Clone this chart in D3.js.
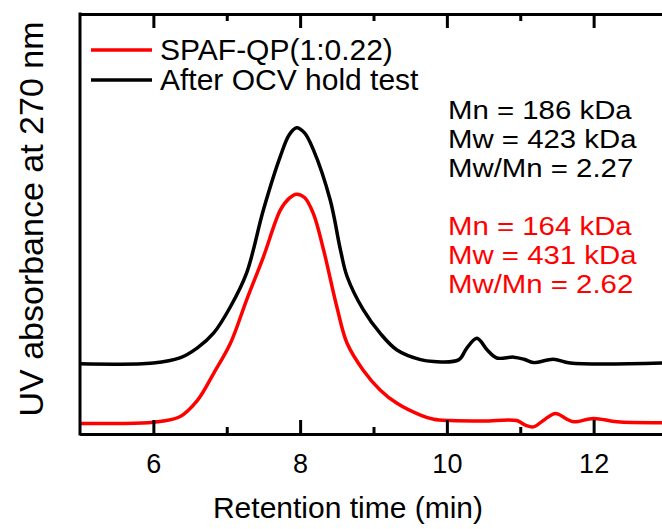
<!DOCTYPE html>
<html>
<head>
<meta charset="utf-8">
<script src="https://cdn.jsdelivr.net/npm/d3@7"></script>
<style>
  body { margin: 0; background: #fff; }
  svg text { font-family: "Liberation Sans", Arial, sans-serif; }
</style>
</head>
<body>
<div id="chart"></div>
<script>
// Data
const redTimes = [5.0, 5.5, 6.0, 6.36, 6.6, 6.82, 7.05, 7.27, 7.5, 7.73, 7.85, 7.95, 8.06, 8.18, 8.32, 8.5, 8.64, 8.86, 9.09, 9.32, 9.64, 9.82, 10.05, 10.5, 10.95, 11.07, 11.18, 11.32, 11.48, 11.64, 11.73, 12.0, 12.32, 12.94];
const redValues = [0, 0, 0.3, 1.6, 5.5, 11.9, 19.1, 29.4, 39.7, 50.8, 53.6, 54.6, 53.8, 50.0, 41.3, 27.8, 19.1, 12.7, 8.0, 4.8, 2.0, 1.0, 0.7, 0.6, 0.7, -0.4, -0.8, 0.8, 2.4, 1.0, 0.4, 1.2, 0.4, 0.2];

const blackTimes = [5.0, 6.0, 6.36, 6.6, 6.82, 7.05, 7.27, 7.5, 7.73, 7.85, 7.95, 8.06, 8.18, 8.41, 8.55, 8.64, 8.86, 9.09, 9.32, 9.64, 9.82, 10.16, 10.27, 10.41, 10.55, 10.68, 10.91, 11.05, 11.18, 11.45, 11.68, 12.94];
const blackValues = [0, 0.2, 1.4, 3.8, 7.3, 13.6, 21.6, 36.7, 49.4, 54.5, 56.2, 55.0, 51.0, 39.0, 27.1, 20.8, 12.9, 7.3, 3.3, 1.0, 0.55, 0.95, 3.7, 6.1, 3.3, 1.4, 1.6, 1.1, 0.3, 1.1, 0.2, 0.2];
const blackOffset = 14.2; // vertical stacking of the second trace

const majorTicks = [6, 8, 10, 12];
const minorTicks = [7, 9, 11, 13];
const legendLabels = ["SPAF-QP(1:0.22)", "After OCV hold test"];
const blackStats = ["Mn = 186 kDa", "Mw = 423 kDa", "Mw/Mn = 2.27"];
const redStats = ["Mn = 164 kDa", "Mw = 431 kDa", "Mw/Mn = 2.62"];

// Layout
const width = 662;
const height = 529;
const margin = { top: 14, right: -5, bottom: 95, left: 80 };
const plotW = width - margin.left - margin.right;
const plotH = height - margin.top - margin.bottom;

const svg = d3.select("#chart")
  .append("svg")
  .attr("width", width)
  .attr("height", height);

const x = d3.scaleLinear().domain([5, 13]).range([0, plotW]);
const y = d3.scaleLinear().domain([-2.5, 97.5]).range([plotH, 0]);

const chart = svg.append("g")
  .attr("transform", `translate(${margin.left},${margin.top})`);

chart.append("clipPath").attr("id", "plot-clip")
  .append("rect").attr("x", 0).attr("y", 0).attr("width", plotW).attr("height", plotH);

const line = d3.line()
  .x(d => x(d[0]))
  .y(d => y(d[1]))
  .curve(d3.curveCatmullRom.alpha(0.5));

const redData = redTimes.map((t, i) => [t, redValues[i]]);
const blackData = blackTimes.map((t, i) => [t, blackValues[i] + blackOffset]);

const curves = chart.append("g").attr("clip-path", "url(#plot-clip)");
curves.append("path")
  .datum(blackData)
  .attr("fill", "none")
  .attr("stroke", "#000")
  .attr("stroke-width", 3.5)
  .attr("d", line);
curves.append("path")
  .datum(redData)
  .attr("fill", "none")
  .attr("stroke", "#ff0000")
  .attr("stroke-width", 3.5)
  .attr("d", line);

// Axes
function styleAxis(g) {
  g.selectAll("path.domain").attr("stroke", "#000").attr("stroke-width", 3);
  g.selectAll(".tick line").attr("stroke", "#000").attr("stroke-width", 3);
  g.selectAll(".tick text").attr("fill", "#000").style("font-size", "27px");
}

chart.append("g")
  .attr("transform", `translate(0,${plotH})`)
  .call(d3.axisBottom(x).tickValues(majorTicks).tickFormat(d3.format("d"))
    .tickSize(-14).tickSizeOuter(0).tickPadding(20))
  .call(styleAxis)
  .attr("font-family", null);

chart.append("g")
  .attr("transform", `translate(0,${plotH})`)
  .call(d3.axisBottom(x).tickValues(minorTicks).tickFormat("")
    .tickSize(-7).tickSizeOuter(0))
  .call(styleAxis);

chart.append("g")
  .call(d3.axisTop(x).tickValues(majorTicks).tickFormat("")
    .tickSize(-14).tickSizeOuter(0))
  .call(styleAxis);

chart.append("g")
  .call(d3.axisTop(x).tickValues(minorTicks).tickFormat("")
    .tickSize(-7).tickSizeOuter(0))
  .call(styleAxis);

chart.append("line")
  .attr("x1", 0).attr("x2", 0)
  .attr("y1", -1.5).attr("y2", plotH + 1.5)
  .attr("stroke", "#000")
  .attr("stroke-width", 3);

// Axis titles
svg.append("text")
  .attr("x", 348)
  .attr("y", 518)
  .attr("text-anchor", "middle")
  .style("font-size", "30px")
  .text("Retention time (min)");

svg.append("text")
  .attr("transform", "translate(43,219) rotate(-90)")
  .attr("text-anchor", "middle")
  .style("font-size", "34px")
  .text("UV absorbance at 270 nm");

// Legend
const legendColors = ["#ff0000", "#000"];
const legend = svg.append("g").attr("transform", "translate(91,50)");
legendLabels.forEach((label, i) => {
  legend.append("line")
    .attr("x1", 0).attr("x2", 61)
    .attr("y1", i * 30).attr("y2", i * 30)
    .attr("stroke", legendColors[i])
    .attr("stroke-width", 3.5);
  legend.append("text")
    .attr("x", 69)
    .attr("y", i * 30 + 10)
    .style("font-size", "30px")
    .text(label);
});

// Molecular weight notes (text in the source is a little wider than Arial)
const notes = svg.append("g").attr("transform", "translate(448,119) scale(1.13,1)");
blackStats.forEach((s, i) => {
  notes.append("text").attr("x", 0).attr("y", i * 29)
    .style("font-size", "26px").attr("fill", "#000").text(s);
});
redStats.forEach((s, i) => {
  notes.append("text").attr("x", 0).attr("y", (i + 4) * 29)
    .style("font-size", "26px").attr("fill", "#ff0000").text(s);
});
</script>
</body>
</html>
